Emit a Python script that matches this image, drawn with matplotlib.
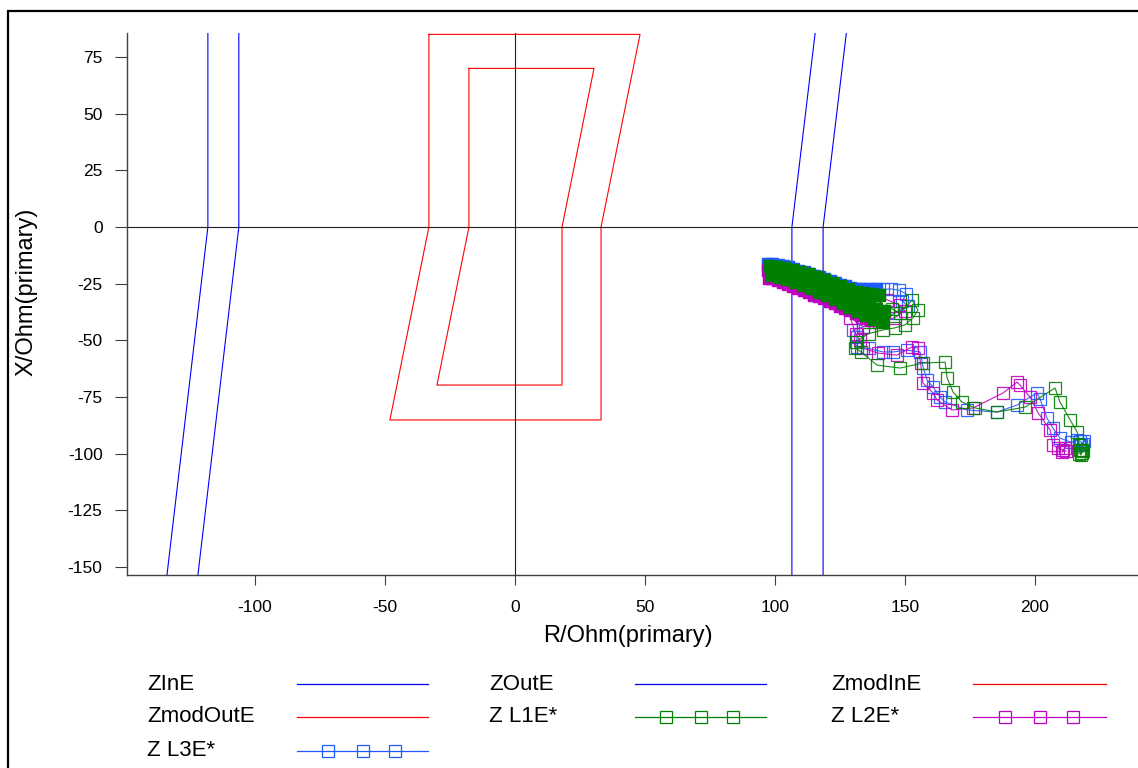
import matplotlib
matplotlib.use("Agg")
import matplotlib.pyplot as plt
from matplotlib.lines import Line2D
from matplotlib.patches import Rectangle

plt.rcParams['font.family'] = ['Liberation Sans', 'DejaVu Sans']
plt.rcParams['axes.unicode_minus'] = False

# ---- zone characteristics (R, X) in Ohm primary
zin_left_r = [-122.6, -106.2, -106.2]
zin_left_x = [-160, 0, 90]
zin_right_r = [106.5, 106.5, 115.9]
zin_right_x = [-160, 0, 90]

zout_left_r = [-134.5, -118.1, -118.1]
zout_left_x = [-160, 0, 90]
zout_right_r = [118.5, 118.5, 127.9]
zout_right_x = [-160, 0, 90]

zmodin_r = [-17.7, 30.4, 18.1, 18.1, -30.0, -17.7, -17.7]
zmodin_x = [70.0, 70.0, 0.0, -69.7, -69.7, 0.0, 70.0]

zmodout_r = [-33.1, 48.1, 33.1, 33.1, -48.1, -33.1, -33.1]
zmodout_x = [85.0, 85.0, 0.0, -85.1, -85.1, 0.0, 85.0]

# ---- measured impedance trajectories
# the first *_dense samples are the slow, heavily overlapping part of the record
l1_dense = 40
l1_r = [98.0, 99.0, 100.5, 102.0, 103.5, 105.0, 106.5, 108.0, 109.5, 111.0,
        112.5, 114.0, 115.0, 116.0, 117.0, 118.0, 119.0, 120.0, 121.0, 122.0,
        123.0, 124.0, 125.0, 126.0, 127.0, 128.0, 129.0, 130.0, 131.0, 132.0,
        133.0, 134.0, 135.0, 136.0, 137.0, 138.0, 139.0, 140.0, 141.0, 142.0,
        145.0, 148.0, 152.7, 155.0, 153.0, 150.0, 146.0, 141.5, 136.0, 131.0,
        130.8, 133.0, 139.2, 148.1, 156.9, 165.4, 166.2, 168.5, 171.9, 176.9,
        185.4, 196.2, 207.7, 209.6, 213.5, 216.2, 217.0, 217.3, 218.0, 217.5,
        218.3, 216.8, 218.0]
l1_x = [-17.3, -21.0, -17.6, -22.0, -18.2, -23.0, -19.0, -24.2, -19.8, -25.5,
        -20.8, -27.0, -24.5, -22.0, -28.5, -26.0, -23.5, -30.0, -27.5, -24.8,
        -31.8, -29.0, -26.0, -33.5, -30.5, -27.5, -35.3, -32.0, -28.5, -37.0,
        -33.5, -29.0, -38.8, -35.0, -29.5, -40.5, -36.0, -30.0, -42.0, -37.0,
        -36.0, -38.0, -32.2, -36.6, -40.1, -43.2, -44.5, -45.4, -47.0, -50.5,
        -53.4, -55.0, -60.9, -62.2, -60.0, -59.6, -66.6, -72.8, -77.2, -79.8,
        -81.6, -79.4, -71.0, -77.2, -85.1, -90.4, -96.0, -98.5, -99.5, -100.5,
        -99.0, -100.0, -98.2]

l2_dense = 22
l2_r = [97.3, 97.8, 99.0, 101.0, 103.0, 105.0, 107.0, 109.0, 111.0, 113.0,
        115.0, 117.0, 119.0, 121.0, 123.0, 125.0, 127.0, 129.0, 131.0, 133.0,
        135.0, 137.0, 138.0, 143.0, 148.0, 150.0, 146.0, 140.0, 134.0, 129.0,
        131.0, 132.7, 134.0, 139.6, 146.9, 152.7, 155.0, 156.0, 156.9, 160.8,
        162.3, 168.1, 176.2, 187.7, 193.1, 194.2, 198.1, 201.2, 205.8, 206.9,
        209.0, 210.8, 211.5, 210.3, 212.0]
l2_x = [-19.0, -22.3, -22.5, -23.3, -24.2, -25.0, -26.0, -27.0, -27.8, -28.8,
        -29.8, -30.5, -31.3, -32.5, -33.5, -34.8, -35.8, -36.6, -37.8, -39.0,
        -40.2, -41.0, -33.0, -32.0, -34.5, -37.0, -40.0, -42.0, -44.0, -40.0,
        -47.0, -50.0, -53.5, -55.6, -56.5, -52.9, -53.4, -60.0, -68.8, -73.2,
        -76.3, -80.7, -79.8, -73.2, -68.4, -69.7, -75.0, -82.0, -89.5, -96.2,
        -97.5, -98.4, -97.6, -99.2, -98.8]

l3_dense = 21
l3_r = [97.5, 99.0, 101.0, 103.0, 105.0, 107.0, 109.0, 111.0, 113.0, 115.0,
        117.0, 119.0, 121.0, 123.0, 125.0, 127.0, 129.0, 131.0, 133.0, 136.0,
        139.0, 141.5, 144.5, 147.5, 150.5, 149.0, 151.0, 146.0, 140.0, 134.0,
        130.0, 131.5, 131.5, 136.0, 141.5, 145.4, 150.8, 155.8, 157.0, 158.5,
        160.8, 163.5, 165.4, 173.8, 185.4, 193.1, 200.8, 202.0, 204.6, 206.9,
        209.6, 214.0, 216.0, 217.3, 218.3, 219.0, 217.5]
l3_x = [-16.3, -16.5, -16.8, -17.2, -17.8, -18.5, -19.3, -20.0, -20.7, -21.4,
        -22.2, -23.0, -23.9, -24.7, -25.6, -26.2, -26.8, -27.2, -27.4, -27.3,
        -27.3, -27.5, -27.3, -27.8, -29.5, -32.5, -35.0, -38.0, -41.0, -44.0,
        -45.5, -48.5, -53.0, -53.5, -55.1, -55.1, -54.3, -55.1, -62.0, -67.5,
        -70.6, -75.0, -77.2, -80.7, -81.6, -78.5, -73.2, -76.0, -84.3, -88.7,
        -93.1, -95.0, -94.0, -94.5, -95.5, -94.2, -96.0]

x_ticks = [-100, -50, 0, 50, 100, 150, 200]
y_ticks = [-150, -125, -100, -75, -50, -25, 0, 25, 50, 75]

c_zone = '#0000FF'
c_mod = '#FF0000'
c_l1 = '#008000'
c_l2 = '#C000C0'
c_l3 = '#1E5AFF'

fig = plt.figure(figsize=(11.38, 7.68), dpi=100)
ax = fig.add_axes([0.1116, 0.2513, 0.8884, 0.7057])

# zones
for r, x in [(zin_left_r, zin_left_x), (zin_right_r, zin_right_x),
             (zout_left_r, zout_left_x), (zout_right_r, zout_right_x)]:
    ax.plot(r, x, color=c_zone, lw=0.8)
ax.plot(zmodin_r, zmodin_x, color=c_mod, lw=0.8)
ax.plot(zmodout_r, zmodout_x, color=c_mod, lw=0.8)

# axes cross
ax.axhline(0, color='#202020', lw=0.8)
ax.axvline(0, color='#202020', lw=0.8)

# trajectories
mk = dict(marker='s', markersize=9, markerfacecolor='none',
          markeredgewidth=0.9, lw=0.8, alpha=0.9)
for r, x, n, col in [(l3_r, l3_x, l3_dense, c_l3),
                     (l2_r, l2_x, l2_dense, c_l2),
                     (l1_r, l1_x, l1_dense, c_l1)]:
    # overlapping squares of the slow part merge into a solid band
    ax.plot(r[:n], x[:n], ls='none', marker='s', markersize=9,
            markerfacecolor=col, markeredgecolor=col, markeredgewidth=0.9)
    ax.plot(r, x, color=col, **mk)

ax.set_xlim(-149.2, 239.6)
ax.set_ylim(-153.5, 85.6)
ax.set_xticks(x_ticks)
ax.set_yticks(y_ticks)
ax.spines['top'].set_visible(False)
ax.spines['right'].set_visible(False)
for s in ('left', 'bottom'):
    ax.spines[s].set_color('#404040')
    ax.spines[s].set_linewidth(1.0)
ax.tick_params(axis='x', length=7.2, pad=11, labelsize=12.5, color='#404040')
ax.tick_params(axis='y', length=8.6, pad=9, labelsize=12.5, color='#404040')

ax.set_xlabel('R/Ohm(primary)', fontsize=17)
ax.set_ylabel('X/Ohm(primary)', fontsize=17)
ax.xaxis.set_label_coords(0.4955, -0.093)
ax.yaxis.set_label_coords(-0.089, 0.522)

# legend drawn in figure coordinates: text then sample
W, H = 1138.0, 768.0
entries = [
    ('ZInE', c_zone, False), ('ZOutE', c_zone, False), ('ZmodInE', c_mod, False),
    ('ZmodOutE', c_mod, False), ('Z L1E*', c_l1, True), ('Z L2E*', c_l2, True),
    ('Z L3E*', c_l3, True),
]
col_text = [147, 489, 831]
col_line = [(297, 428), (635, 766), (973, 1106)]
row_y = [684, 717, 751]
for i, (lab, col, has_mk) in enumerate(entries):
    r, c = divmod(i, 3)
    yf = 1 - row_y[r] / H
    fig.text(col_text[c] / W, yf, lab, fontsize=16, va='center', ha='left')
    x0, x1 = col_line[c]
    fig.add_artist(Line2D([x0 / W, x1 / W], [yf, yf], color=col, lw=0.9,
                          transform=fig.transFigure))
    if has_mk:
        xs = [(x0 + f * (x1 - x0)) / W for f in (0.24, 0.5, 0.75)]
        fig.add_artist(Line2D(xs, [yf] * 3, color=col, lw=0, marker='s',
                              markersize=8, markerfacecolor='none',
                              markeredgewidth=0.9, transform=fig.transFigure))

# outer frame
fig.add_artist(Rectangle((7.5 / W, -0.1), 1.2, 1.1 - 11 / H, fill=False,
                         edgecolor='black', lw=1.6, transform=fig.transFigure))

fig.savefig('out.png', dpi=100)
